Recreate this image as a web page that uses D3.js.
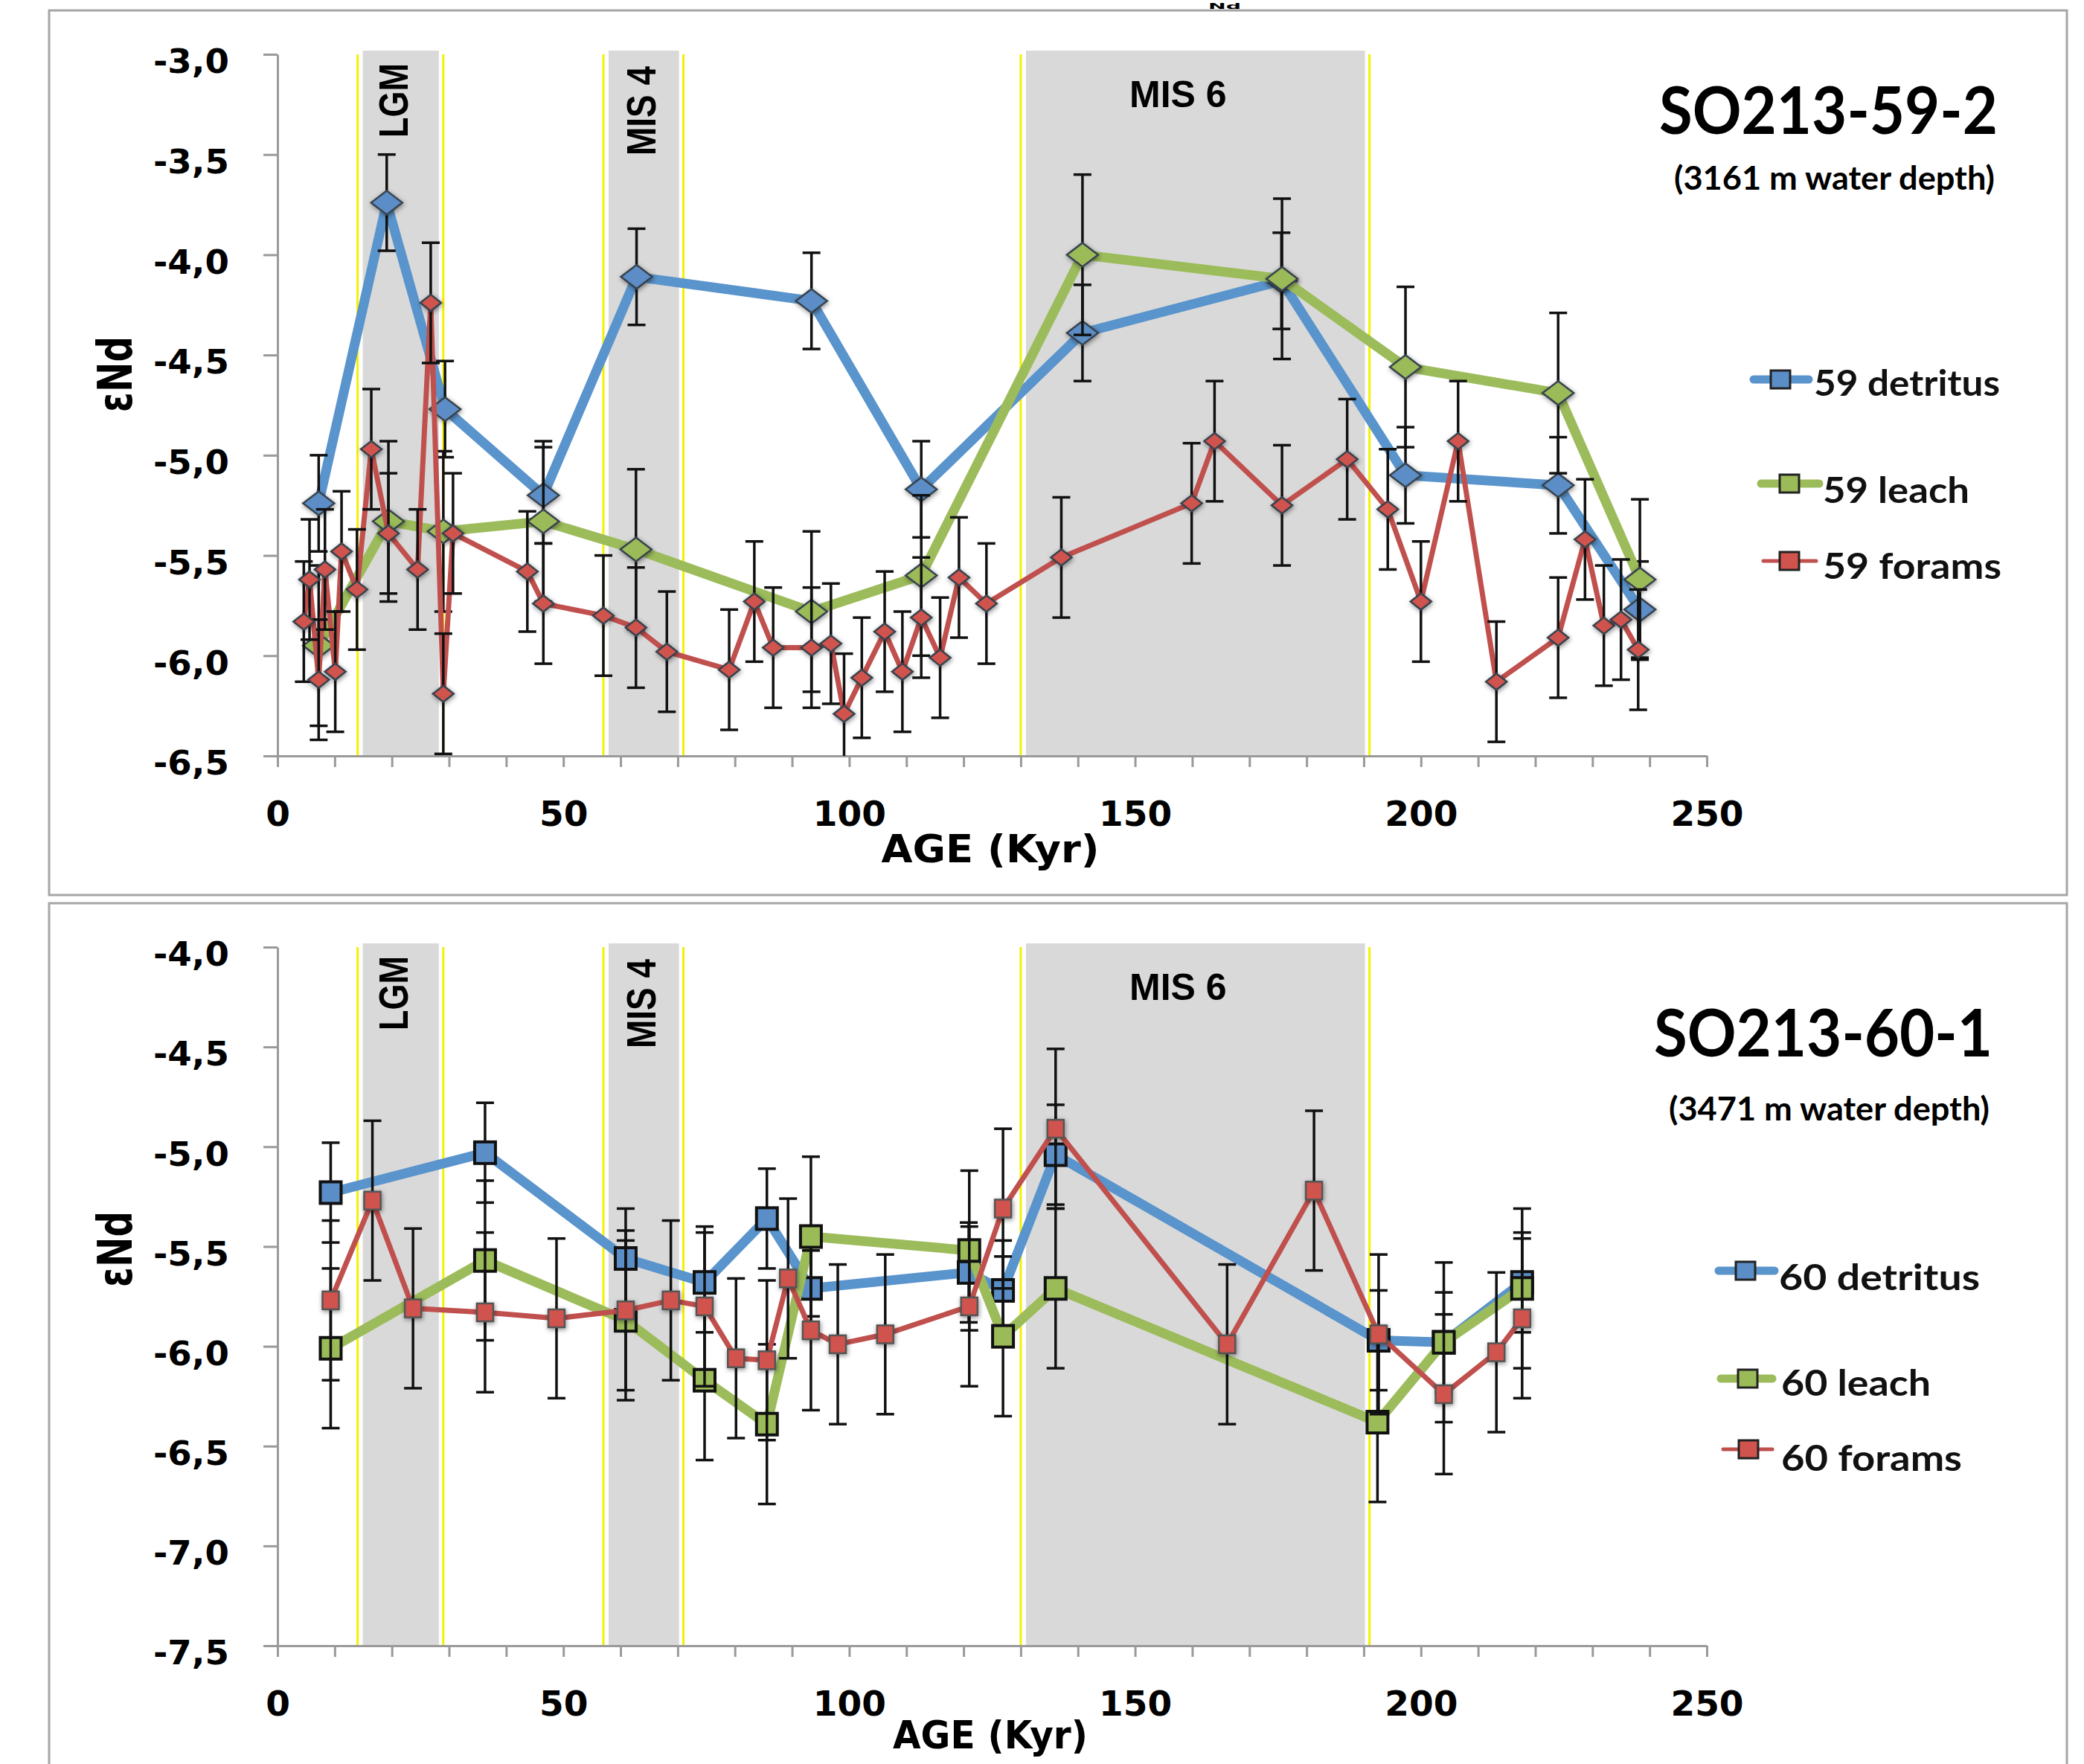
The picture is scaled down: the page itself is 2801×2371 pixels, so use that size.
<!DOCTYPE html>
<html>
<head>
<meta charset="utf-8">
<script src="https://cdn.jsdelivr.net/npm/d3@7"></script>
<style>
  body { margin: 0; background: #fff; }
  svg { display: block; }
</style>
</head>
<body>
<div id="chart"></div>
<script>
// ---- values ----

// age axis (kyr)
let ageTicks = d3.range(0, 251, 10)
let ageLabels = [0, 50, 100, 150, 200, 250]

// eNd axis ticks for each core
let yTicks59 = [-6.5, -6.0, -5.5, -5.0, -4.5, -4.0, -3.5, -3.0]
let yTicks60 = [-7.5, -7.0, -6.5, -6.0, -5.5, -5.0, -4.5, -4.0]

// shaded climate intervals
let bandNames = ['LGM', 'MIS 4', 'MIS 6']
let bandStart = [14, 57, 130]
let bandEnd = [29, 71, 191]

// SO213-59-2
let det59Age = [7.2, 19.1, 29.3, 46.5, 62.8, 93.4, 112.6, 140.8, 175.6, 197.3, 224.0, 238.3]
let det59Val = [-5.24, -3.74, -4.77, -5.20, -4.11, -4.23, -5.17, -4.39, -4.13, -5.10, -5.15, -5.77]
let leach59Age = [7.2, 19.4, 29.0, 46.5, 62.7, 93.4, 112.6, 140.8, 175.7, 197.3, 224.0, 238.3]
let leach59Val = [-5.95, -5.33, -5.38, -5.33, -5.47, -5.78, -5.60, -4.00, -4.12, -4.56, -4.69, -5.62]
let foram59Age = [4.6, 5.6, 7.2, 8.3, 10.1, 11.2, 13.9, 16.4, 19.4, 24.5, 26.8, 29.0, 30.7, 43.7, 46.5,
    57.0, 62.7, 68.1, 79.0, 83.4, 86.7, 93.4, 96.8, 99.1, 102.2, 106.2, 109.3, 112.6, 115.9, 119.2,
    124.0, 137.1, 159.9, 163.9, 175.7, 187.1, 194.2, 200.0, 206.5, 213.2, 224.0, 228.7, 232.0, 235.0, 238.0]
let foram59Val = [-5.83, -5.62, -6.12, -5.57, -6.08, -5.48, -5.67, -4.97, -5.39, -5.57, -4.24, -6.19, -5.39, -5.58, -5.74,
    -5.80, -5.86, -5.98, -6.07, -5.73, -5.96, -5.96, -5.94, -6.29, -6.11, -5.88, -6.08, -5.81, -6.01, -5.61,
    -5.74, -5.51, -5.24, -4.93, -5.25, -5.02, -5.27, -5.73, -4.93, -6.13, -5.91, -5.42, -5.85, -5.82, -5.97]
let err59 = { detritus: 0.24, leach: 0.4, forams: 0.3 }

// SO213-60-1
let det60Age = [9.3, 36.3, 60.9, 74.7, 85.6, 93.3, 120.9, 126.9, 136.1, 192.6, 204.0, 217.7]
let det60Val = [-5.23, -5.03, -5.56, -5.68, -5.36, -5.71, -5.63, -5.72, -5.04, -5.97, -5.98, -5.68]
let leach60Age = [9.3, 36.3, 60.9, 74.7, 85.6, 93.3, 121.0, 126.9, 136.1, 192.4, 204.0, 217.7]
let leach60Val = [-6.01, -5.57, -5.87, -6.17, -6.39, -5.45, -5.52, -5.95, -5.71, -6.38, -5.98, -5.71]
let foram60Age = [9.3, 16.6, 23.7, 36.3, 48.8, 60.9, 68.8, 74.7, 80.2, 85.6, 89.3, 93.3, 98.0, 106.3,
    121.0, 126.9, 136.1, 166.1, 181.3, 192.6, 204.0, 213.2, 217.7]
let foram60Val = [-5.77, -5.27, -5.81, -5.83, -5.86, -5.82, -5.77, -5.80, -6.06, -6.07, -5.66, -5.92, -5.99, -5.94,
    -5.80, -5.31, -4.91, -5.99, -5.22, -5.94, -6.24, -6.03, -5.86]
let err60 = { detritus: 0.25, leach: 0.4, forams: 0.4 }

// ---- drawing ----
let svgWidth = 2801,
    svgHeight = 2371

let svg = d3.select('#chart')
    .append('svg')
    .attr('width', svgWidth)
    .attr('height', svgHeight)

let defs = svg.append('defs')
defs.append('filter')
    .attr('id', 'shadow')
    .attr('x', '-60%').attr('y', '-60%')
    .attr('width', '220%').attr('height', '220%')
    .append('feDropShadow')
    .attr('dx', 1).attr('dy', 2)
    .attr('stdDeviation', 3)
    .attr('flood-color', '#000')
    .attr('flood-opacity', 0.45)

let x = d3.scaleLinear()
    .domain([0, 250])
    .range([373, 2294])

let commaFormat = d3.formatLocale({
    decimal: ',', thousands: '.', grouping: [3], currency: ['', ''], minus: '-'
}).format('.1f')

let colors = {
    detritus: { line: '#5a94cc', fill: '#5b8dc6' },
    leach: { line: '#9cbc5b', fill: '#9bbb59' },
    forams: { line: '#c0504d', fill: '#d0534d' }
}

let tickFont = 'DejaVu Sans, Verdana, sans-serif'
let titleFont = 'Lato, Carlito, Calibri, sans-serif'
let bandFont = 'Liberation Sans, Arial, sans-serif'

let axisGray = '#9a9a9a'

// subscript "Nd" of a title that sits just above the figure
svg.append('text')
    .attr('x', 1646).attr('y', 12)
    .attr('text-anchor', 'middle')
    .attr('font-family', tickFont)
    .attr('font-weight', 'bold')
    .attr('font-size', 11)
    .attr('textLength', 44)
    .attr('lengthAdjust', 'spacingAndGlyphs')
    .text('Nd')

function diamondPath(hw, hh) {
    return `M0,${-hh}L${hw},0L0,${hh}L${-hw},0Z`
}

function drawPanel(p) {
    let y = d3.scaleLinear()
        .domain([p.yTicks[0], p.yTicks[p.yTicks.length - 1]])
        .range([p.yBottom, p.yTop])

    let g = svg.append('g')

    // panel frame
    g.append('rect')
        .attr('x', 66).attr('y', p.frameTop)
        .attr('width', 2712).attr('height', p.frameHeight)
        .attr('fill', 'none')
        .attr('stroke', '#a6a6a6')
        .attr('stroke-width', 3)

    // shaded intervals with yellow edges
    bandNames.forEach((name, i) => {
        let x0 = x(bandStart[i]), x1 = x(bandEnd[i])
        g.append('rect')
            .attr('x', x0 + 7).attr('y', p.yTop - 5)
            .attr('width', x1 - x0 - 13).attr('height', p.yBottom - p.yTop + 5)
            .attr('fill', '#d9d9d9')
        ;[x0, x1].forEach(xx => {
            g.append('line')
                .attr('x1', xx).attr('x2', xx)
                .attr('y1', p.yTop).attr('y2', p.yBottom)
                .attr('stroke', '#f5f000')
                .attr('stroke-width', 3)
        })
        let cx = (x0 + x1) / 2
        if (name === 'MIS 6') {
            g.append('text')
                .attr('x', cx - 23).attr('y', p.yTop + 71)
                .attr('text-anchor', 'middle')
                .attr('font-family', bandFont)
                .attr('font-weight', 'bold')
                .attr('font-size', 50)
                .text(name)
        } else {
            let cy = p.yTop + (name === 'LGM' ? 62 : 76)
            g.append('text')
                .attr('transform', `translate(${cx + (name === 'LGM' ? -10 : -4)},${cy}) rotate(-90)`)
                .attr('text-anchor', 'middle')
                .attr('dy', '0.36em')
                .attr('font-family', bandFont)
                .attr('font-weight', 'bold')
                .attr('font-size', 56)
                .attr('textLength', name === 'LGM' ? 100 : 120)
                .attr('lengthAdjust', 'spacingAndGlyphs')
                .text(name)
        }
    })

    // y axis
    let yAxis = g.append('g')
        .attr('transform', `translate(${x(0)},0)`)
        .call(d3.axisLeft(y).tickValues(p.yTicks).tickSize(19).tickSizeOuter(0).tickPadding(46).tickFormat(commaFormat))
    yAxis.select('.domain').attr('stroke', axisGray).attr('stroke-width', 3)
    yAxis.selectAll('.tick line').attr('stroke', axisGray).attr('stroke-width', 3)
    yAxis.selectAll('.tick text')
        .attr('fill', '#000')
        .attr('font-family', tickFont)
        .attr('font-weight', 'bold')
        .attr('font-size', 45)
        .attr('dy', '0.55em')
        .attr('textLength', 102)
        .attr('lengthAdjust', 'spacingAndGlyphs')

    // x axis
    let xAxis = g.append('g')
        .attr('transform', `translate(0,${p.yBottom})`)
        .call(d3.axisBottom(x).tickValues(ageTicks).tickSize(15).tickSizeOuter(0).tickPadding(46)
            .tickFormat(d => ageLabels.includes(d) ? d : ''))
    xAxis.select('.domain').attr('stroke', axisGray).attr('stroke-width', 3)
    xAxis.selectAll('.tick line').attr('stroke', axisGray).attr('stroke-width', 3)
    xAxis.selectAll('.tick text')
        .attr('fill', '#000')
        .attr('font-family', tickFont)
        .attr('font-weight', 'bold')
        .attr('font-size', 47)

    // axis titles
    g.append('text')
        .attr('x', 1331).attr('y', p.yBottom + p.ageTitleDy)
        .attr('text-anchor', 'middle')
        .attr('font-family', tickFont)
        .attr('font-weight', 'bold')
        .attr('font-size', 52)
        .attr('textLength', p.ageTitleLen)
        .attr('lengthAdjust', 'spacingAndGlyphs')
        .text('AGE (Kyr)')

    g.append('text')
        .attr('transform', `translate(154,${p.yLabelY}) rotate(-90)`)
        .attr('text-anchor', 'middle')
        .attr('dy', '0.36em')
        .attr('font-family', tickFont)
        .attr('font-weight', 'bold')
        .attr('font-size', 64)
        .attr('textLength', 102)
        .attr('lengthAdjust', 'spacingAndGlyphs')
        .text('εNd')

    // series: line, error bars, markers
    p.series.forEach(s => {
        let pts = s.age.map((a, i) => ({ a: a, v: s.val[i] }))
        let c = colors[s.kind]
        let sg = g.append('g')

        sg.append('path')
            .datum(pts)
            .attr('fill', 'none')
            .attr('stroke', c.line)
            .attr('stroke-width', s.kind === 'forams' ? 7 : 13)
            .attr('stroke-linejoin', 'round')
            .attr('d', d3.line().x(d => x(d.a)).y(d => y(d.v)))

        let bars = sg.selectAll('.err')
            .data(pts)
            .enter().append('g')
            .attr('class', 'err')
            .attr('stroke', '#111')
            .attr('stroke-width', 3.5)
        bars.append('line')
            .attr('x1', d => x(d.a)).attr('x2', d => x(d.a))
            .attr('y1', d => y(Math.max(d.v - s.err, p.yTicks[0])))
            .attr('y2', d => y(d.v + s.err))
        bars.filter(d => d.v - s.err >= p.yTicks[0]).append('line')
            .attr('x1', d => x(d.a) - 12).attr('x2', d => x(d.a) + 12)
            .attr('y1', d => y(d.v - s.err)).attr('y2', d => y(d.v - s.err))
        bars.append('line')
            .attr('x1', d => x(d.a) - 12).attr('x2', d => x(d.a) + 12)
            .attr('y1', d => y(d.v + s.err)).attr('y2', d => y(d.v + s.err))

        if (p.marker === 'diamond') {
            let big = s.kind !== 'forams'
            sg.selectAll('.mk')
                .data(pts)
                .enter().append('path')
                .attr('class', 'mk')
                .attr('transform', d => `translate(${x(d.a)},${y(d.v)})`)
                .attr('d', big ? diamondPath(21, 16) : diamondPath(14, 11))
                .attr('fill', c.fill)
                .attr('stroke', '#37434d')
                .attr('stroke-width', 2.5)
                .attr('filter', 'url(#shadow)')
        } else {
            let big = s.kind !== 'forams'
            let w = big ? 28 : 22, h = big ? 29 : 24
            sg.selectAll('.mk')
                .data(pts)
                .enter().append('rect')
                .attr('class', 'mk')
                .attr('x', d => x(d.a) - w / 2)
                .attr('y', d => y(d.v) - h / 2)
                .attr('width', w).attr('height', h)
                .attr('fill', c.fill)
                .attr('stroke', big ? '#111' : '#555')
                .attr('stroke-width', big ? 4 : 2.5)
                .attr('filter', big ? null : 'url(#shadow)')
        }
    })

    // core name and depth
    g.append('text')
        .attr('x', p.titleX).attr('y', p.titleY)
        .attr('font-family', titleFont)
        .attr('font-weight', 'bold')
        .attr('font-size', 88)
        .attr('textLength', 455)
        .attr('lengthAdjust', 'spacingAndGlyphs')
        .text(p.title)
    g.append('text')
        .attr('x', p.subX).attr('y', p.subY)
        .attr('font-family', titleFont)
        .attr('font-weight', 'bold')
        .attr('font-size', 44)
        .attr('textLength', 431)
        .attr('lengthAdjust', 'spacingAndGlyphs')
        .text(p.subtitle)

    // legend
    let legend = g.append('g').attr('class', 'legend')
    p.legend.forEach(l => {
        let c = colors[l.kind]
        legend.append('line')
            .attr('x1', l.x1).attr('x2', l.x2)
            .attr('y1', l.y).attr('y2', l.y)
            .attr('stroke', c.line)
            .attr('stroke-width', l.kind === 'forams' ? 5 : 11)
            .attr('stroke-linecap', 'round')
        legend.append('rect')
            .attr('x', l.mx - 13).attr('y', l.y - 12)
            .attr('width', 26).attr('height', 24)
            .attr('fill', c.fill)
            .attr('stroke', '#222')
            .attr('stroke-width', 3)
        legend.append('text')
            .attr('x', l.tx).attr('y', l.ty)
            .attr('font-family', titleFont)
            .attr('font-weight', 'bold')
            .attr('font-size', 48)
            .attr('textLength', l.len)
            .attr('lengthAdjust', 'spacingAndGlyphs')
            .attr('fill', '#111')
            .text(l.label)
    })
}

drawPanel({
    yTicks: yTicks59,
    yTop: 73, yBottom: 1016,
    frameTop: 14, frameHeight: 1189,
    marker: 'diamond',
    ageTitleDy: 143, ageTitleLen: 293,
    yLabelY: 503,
    title: 'SO213-59-2', titleX: 2230, titleY: 180,
    subtitle: '(3161 m water depth)', subX: 2250, subY: 255,
    series: [
        { kind: 'detritus', age: det59Age, val: det59Val, err: err59.detritus },
        { kind: 'leach', age: leach59Age, val: leach59Val, err: err59.leach },
        { kind: 'forams', age: foram59Age, val: foram59Val, err: err59.forams }
    ],
    legend: [
        { kind: 'detritus', label: '59 detritus', x1: 2357, x2: 2431, y: 510, mx: 2393, tx: 2438, ty: 532, len: 250 },
        { kind: 'leach', label: '59 leach', x1: 2367, x2: 2445, y: 650, mx: 2405, tx: 2450, ty: 676, len: 197 },
        { kind: 'forams', label: '59 forams', x1: 2370, x2: 2441, y: 754, mx: 2405, tx: 2450, ty: 778, len: 240 }
    ]
})

drawPanel({
    yTicks: yTicks60,
    yTop: 1273, yBottom: 2212,
    frameTop: 1214, frameHeight: 1300,
    marker: 'square',
    ageTitleDy: 138, ageTitleLen: 262,
    yLabelY: 1679,
    title: 'SO213-60-1', titleX: 2223, titleY: 1420,
    subtitle: '(3471 m water depth)', subX: 2243, subY: 1506,
    series: [
        { kind: 'detritus', age: det60Age, val: det60Val, err: err60.detritus },
        { kind: 'leach', age: leach60Age, val: leach60Val, err: err60.leach },
        { kind: 'forams', age: foram60Age, val: foram60Val, err: err60.forams }
    ],
    legend: [
        { kind: 'detritus', label: '60 detritus', x1: 2310, x2: 2385, y: 1708, mx: 2346, tx: 2391, ty: 1734, len: 270 },
        { kind: 'leach', label: '60 leach', x1: 2313, x2: 2382, y: 1853, mx: 2349, tx: 2394, ty: 1876, len: 201 },
        { kind: 'forams', label: '60 forams', x1: 2316, x2: 2382, y: 1948, mx: 2350, tx: 2394, ty: 1977, len: 243 }
    ]
})
</script>
</body>
</html>
